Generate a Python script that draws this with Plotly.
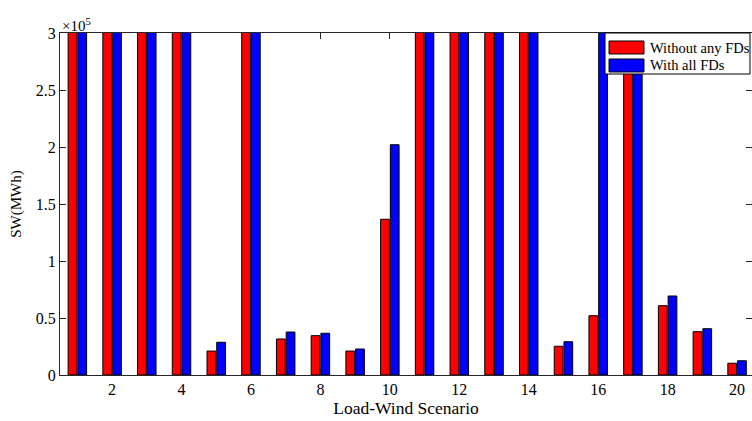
import plotly.graph_objects as go

scenarios = list(range(1, 21))
# SW in MWh (values above 3e5 are clipped in the reference; estimated)
without_fds = [400000, 400000, 400000, 400000, 21000, 400000, 31600, 34500, 21000, 136600,
               400000, 400000, 400000, 400000, 25200, 52000, 400000, 60800, 38000, 10300]
with_fds = [400000, 400000, 400000, 400000, 28700, 400000, 37700, 36600, 22800, 202000,
            400000, 400000, 400000, 400000, 29200, 400000, 400000, 69300, 40600, 12500]
series_names = ["Without any FDs", "With all FDs"]
series_colors = ["#FF0000", "#0000FF"]
x_ticks = [2, 4, 6, 8, 10, 12, 14, 16, 18, 20]
y_ticks = [0, 50000, 100000, 150000, 200000, 250000, 300000]
y_ticktext = ["0", "0.5", "1", "1.5", "2", "2.5", "3"]

font = "Times New Roman"
axcol = "#262626"

fig = go.Figure()
for vals, nm, col in zip([without_fds, with_fds], series_names, series_colors):
    fig.add_bar(x=scenarios, y=vals, name=nm,
                marker=dict(color=col, line=dict(color="#000000", width=1)))

# custom MATLAB-style legend (paper coordinates)
shapes = [dict(type="rect", xref="paper", yref="paper", x0=0.7876, x1=0.9971,
               y0=0.8801, y1=1.0, fillcolor="white", line=dict(color="#000000", width=1),
               layer="above")]
annotations = []
sw_y = [(0.9386, 0.9766), (0.886, 0.924)]
txt_y = [0.9576, 0.905]
for (y0, y1), ty, nm, col in zip(sw_y, txt_y, series_names, series_colors):
    shapes.append(dict(type="rect", xref="paper", yref="paper", x0=0.7934, x1=0.8439,
                       y0=y0, y1=y1, fillcolor=col, line=dict(color="#000000", width=1),
                       layer="above"))
    annotations.append(dict(text=nm, xref="paper", yref="paper", x=0.8497, y=ty,
                            xanchor="left", yanchor="middle", showarrow=False,
                            font=dict(family=font, size=14.5, color="#000000")))
annotations.append(dict(text="×10<sup>5</sup>", xref="paper", yref="paper",
                        x=0.0, y=1.0, xanchor="left", yanchor="bottom",
                        showarrow=False, font=dict(family=font, size=15), yshift=-3))

fig.update_layout(
    width=752, height=421,
    margin=dict(l=60, r=0, t=33, b=46),
    paper_bgcolor="white", plot_bgcolor="white",
    barmode="group", bargap=0.44, bargroupgap=0.1,
    font=dict(family=font, size=15, color="#000000"),
    showlegend=False,
    xaxis=dict(range=[0.5, 20.43], tickvals=x_ticks, ticks="inside", ticklen=6,
               tickcolor=axcol, showline=True, linecolor=axcol, linewidth=1,
               mirror="ticks", showgrid=False, zeroline=False,
               tickfont=dict(family=font, size=16),
               title=dict(text="Load-Wind Scenario", font=dict(family=font, size=17.5), standoff=4)),
    yaxis=dict(range=[0, 300000], tickvals=y_ticks, ticktext=y_ticktext,
               ticks="inside", ticklen=6, tickcolor=axcol, showline=True,
               linecolor=axcol, linewidth=1, mirror="ticks", showgrid=False,
               zeroline=False, tickfont=dict(family=font, size=16),
               title=dict(text="SW(MWh)", font=dict(family=font, size=15), standoff=10)),
    shapes=shapes,
    annotations=annotations,
)

fig.write_html("out.html")
